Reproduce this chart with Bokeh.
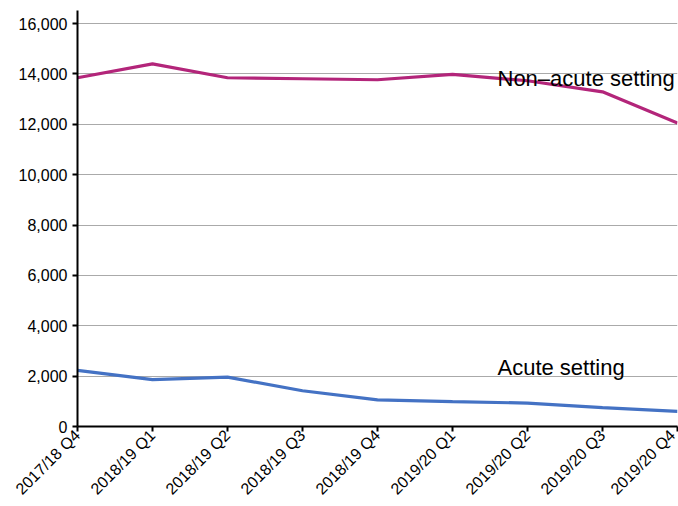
from bokeh.plotting import figure
from bokeh.models import FixedTicker, Range1d, NumeralTickFormatter
from bokeh.core.properties import value
from bokeh.embed import file_html
from bokeh.resources import INLINE

quarters = ["2017/18 Q4", "2018/19 Q1", "2018/19 Q2", "2018/19 Q3", "2018/19 Q4",
            "2019/20 Q1", "2019/20 Q2", "2019/20 Q3", "2019/20 Q4"]
non_acute = [13850, 14400, 13850, 13810, 13770, 13980, 13730, 13290, 12050]
acute = [2230, 1860, 1960, 1420, 1060, 990, 930, 750, 600]
label_non_acute = "Non\u2013acute setting"
label_acute = "Acute setting"
label_pos = 5.6
label_y_non_acute = 13820
label_y_acute = 2330
y_ticks = list(range(0, 16001, 2000))

xs = list(range(len(quarters)))
FONT = "Liberation Sans"

p = figure(width=678, height=506, output_backend="svg", toolbar_location=None,
           x_range=Range1d(0, len(quarters) - 1), y_range=Range1d(0, 16520),
           min_border_left=77, min_border_right=1, min_border_top=10, min_border_bottom=0)
p.outline_line_color = None
p.background_fill_color = "white"

p.line(xs, non_acute, line_color="#B3257A", line_width=3.2)
p.line(xs, acute, line_color="#4472C4", line_width=3.2)

p.text([label_pos], [label_y_non_acute], text=[label_non_acute], text_font=value(FONT),
       text_font_size="22px", text_baseline="middle", text_align="left", text_color="black")
p.text([label_pos], [label_y_acute], text=[label_acute], text_font=value(FONT),
       text_font_size="22px", text_baseline="middle", text_align="left", text_color="black")

p.xaxis.ticker = FixedTicker(ticks=xs)
p.xaxis.major_label_overrides = {i: q for i, q in enumerate(quarters)}
p.xaxis.major_label_orientation = 0.785398
p.xaxis.major_label_standoff = 1
p.yaxis.ticker = FixedTicker(ticks=y_ticks)
p.yaxis.formatter = NumeralTickFormatter(format="0,0")

for ax in (p.xaxis, p.yaxis):
    ax.axis_line_color = "black"
    ax.axis_line_width = 2
    ax.major_tick_line_color = "black"
    ax.major_tick_line_width = 2
    ax.major_tick_out = 5
    ax.major_tick_in = 0
    ax.minor_tick_line_color = None
    ax.major_label_text_font = FONT
    ax.major_label_text_font_size = "16px"
    ax.major_label_text_color = "black"

p.xgrid.grid_line_color = None
p.ygrid.grid_line_color = "#aaaaaa"
p.ygrid.grid_line_width = 1
p.ygrid.ticker = FixedTicker(ticks=y_ticks)

open("out.html", "w").write(file_html(p, INLINE))
